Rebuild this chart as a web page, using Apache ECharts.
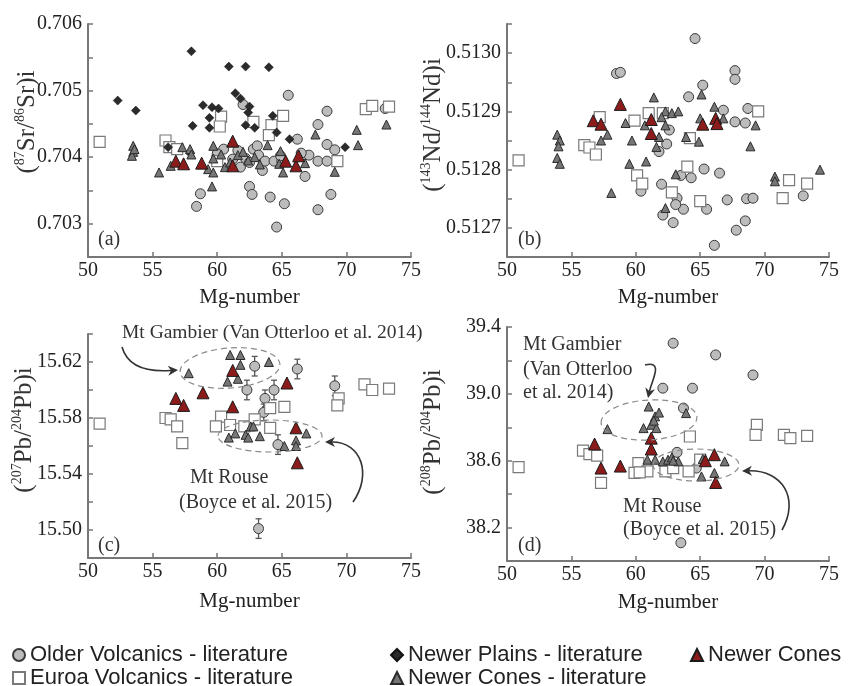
<!DOCTYPE html>
<html>
<head>
<meta charset="utf-8">
<title>Mg-number vs isotopes</title>
<script src="https://cdn.jsdelivr.net/npm/echarts@6/dist/echarts.min.js"></script>
<style>
  html, body { margin: 0; padding: 0; background: #fff; }
  #chart { width: 848px; height: 686px; }
</style>
</head>
<body>
<div id="chart"></div>
<script>
// ---- data: [Mg-number, ratio] ----
// (a) 87Sr/86Sr
var olderSr = [[58.7,0.70345],[58.4,0.70326],[60.5,0.70412],[65.5,0.70493],[68.5,0.70469],[73.0,0.70473],
  [67.8,0.70449],[62.0,0.70479],[66.2,0.70427],[68.5,0.70419],[69.1,0.70411],[67.1,0.70403],[67.8,0.70394],
  [68.5,0.70394],[66.8,0.70371],[62.5,0.70356],[62.7,0.70344],[64.1,0.70340],[65.2,0.70330],[68.8,0.70344],
  [67.8,0.70321],[64.6,0.70295],[62.8,0.70412],[63.1,0.70417],[63.2,0.70403],[63.5,0.70380],[63.7,0.70394],
  [64.4,0.70394],[61.8,0.70385],[61.2,0.70397],[62.2,0.70398],[62.5,0.70392],[66.5,0.70406],[65.0,0.70394],
  [60.0,0.70405],[61.6,0.70410],[64.9,0.70402]];
var euroaSr = [[50.9,0.70423],[56.0,0.70425],[56.3,0.70415],[56.9,0.70412],[60.3,0.70461],[60.2,0.70446],
  [62.8,0.70453],[65.1,0.70462],[64.2,0.70448],[64.0,0.70433],[69.3,0.70394],[71.5,0.70472],[72.0,0.70477],
  [73.3,0.70476],[60.0,0.70394]];
var plainsSr = [[52.3,0.70485],[53.7,0.70470],[56.2,0.70415],[57.9,0.70406],[58.0,0.70559],[58.1,0.70447],
  [58.9,0.70478],[59.4,0.70459],[59.4,0.70444],[59.6,0.70475],[60.1,0.70473],[60.9,0.70536],[61.4,0.70496],
  [61.8,0.70488],[62.2,0.70536],[62.4,0.70467],[62.5,0.70476],[62.2,0.70448],[62.9,0.70444],[64.0,0.70535],
  [64.3,0.70462],[64.6,0.70437],[65.6,0.70427],[69.9,0.70415]];
var conesLitSr = [[53.5,0.70417],[53.5,0.70408],[53.4,0.70402],[53.6,0.70412],[55.5,0.70377],[56.4,0.70387],
  [57.3,0.70415],[57.9,0.70412],[58.0,0.70404],[59.3,0.70382],[59.7,0.70377],[59.6,0.70356],[59.7,0.70417],
  [59.7,0.70398],[60.6,0.70385],[60.3,0.70404],[61.6,0.70403],[62.0,0.70408],[62.4,0.70395],[62.9,0.70400],
  [63.9,0.70418],[64.9,0.70409],[65.1,0.70377],[64.8,0.70390],[66.8,0.70391],[67.6,0.70434],[69.1,0.70378],
  [70.8,0.70441],[70.9,0.70418],[73.1,0.70449],[61.0,0.70392],[63.3,0.70389]];
var conesSr = [[56.8,0.70394],[57.4,0.70390],[58.8,0.70391],[61.2,0.70424],[61.2,0.70387],[65.3,0.70394],
  [66.1,0.70387],[66.3,0.70402]];

// (b) 143Nd/144Nd
var olderNd = [[58.5,0.512965],[58.8,0.512967],[64.6,0.513025],[67.7,0.51297],[67.7,0.512955],[65.2,0.512945],
  [64.1,0.512925],[66.8,0.512902],[68.7,0.512905],[67.7,0.512882],[68.5,0.51288],[62.6,0.512868],[62.4,0.512844],
  [61.8,0.512831],[60.4,0.512763],[62.0,0.512775],[63.5,0.51279],[64.3,0.512786],[65.3,0.512801],[66.5,0.512794],
  [63.2,0.512751],[63.7,0.512732],[63.1,0.51274],[62.1,0.512722],[62.9,0.512709],[65.5,0.512732],[67.1,0.512748],
  [68.6,0.51275],[69.1,0.512751],[68.5,0.512712],[67.8,0.512696],[66.1,0.51267],[73.0,0.512755]];
var euroaNd = [[50.9,0.512816],[56.0,0.512842],[56.4,0.512838],[56.9,0.512826],[57.2,0.51289],[59.9,0.512884],
  [61.0,0.512897],[62.1,0.512897],[64.2,0.512854],[60.1,0.51279],[60.5,0.512776],[64.0,0.512805],[62.8,0.512761],
  [65.0,0.512746],[69.5,0.5129],[71.9,0.512782],[73.3,0.512776],[71.4,0.512751]];
var conesLitNd = [[53.9,0.51286],[54.1,0.51285],[54.0,0.51284],[53.9,0.51282],[54.1,0.51281],[57.3,0.51285],
  [57.8,0.51286],[58.1,0.51276],[59.2,0.51288],[59.7,0.51285],[59.5,0.51281],[61.4,0.512924],[60.8,0.512814],
  [62.3,0.5129],[62.8,0.512897],[63.3,0.5129],[62.3,0.512876],[61.8,0.512856],[61.6,0.512839],[63.9,0.512856],
  [64.9,0.512848],[65.1,0.512929],[66.1,0.512908],[66.8,0.512888],[65.0,0.512888],[69.3,0.512876],[68.9,0.51284],
  [63.1,0.512792],[70.8,0.512788],[70.8,0.51278],[74.3,0.5128],[62.3,0.512734],[60.7,0.512876],[62.0,0.51289]];
var conesNd = [[56.7,0.512884],[57.3,0.512878],[58.8,0.512912],[61.2,0.512886],[61.2,0.512862],[65.2,0.512878],
  [66.2,0.512888],[66.3,0.512879]];

// (c) 207Pb/204Pb (older volcanics carry an error bar)
var olderPb7 = [[62.9,15.617],[66.2,15.615],[62.3,15.600],[64.4,15.600],[63.7,15.594],[63.6,15.584],
  [64.7,15.561],[63.2,15.501],[69.1,15.603]];
var olderPb7Err = [0.007,0.007,0.007,0.007,0.006,0.006,0.007,0.007,0.007];
var euroaPb7 = [[50.9,15.576],[56.0,15.580],[56.4,15.579],[56.9,15.574],[57.3,15.562],[60.3,15.581],[59.9,15.574],
  [61.0,15.575],[62.1,15.574],[62.9,15.579],[64.1,15.587],[65.2,15.588],[64.1,15.573],[69.4,15.594],[69.3,15.589],
  [71.4,15.604],[72.0,15.600],[73.3,15.601]];
var conesLitPb7 = [[57.8,15.612],[60.8,15.606],[61.0,15.625],[61.8,15.625],[61.8,15.618],[64.0,15.620],[61.6,15.608],
  [60.9,15.566],[61.4,15.569],[62.2,15.568],[62.6,15.574],[62.8,15.574],[62.4,15.566],[63.3,15.567],[65.2,15.560],
  [66.1,15.564],[66.1,15.560],[66.9,15.569]];
var conesPb7 = [[56.8,15.594],[57.4,15.589],[58.9,15.598],[61.2,15.614],[61.2,15.588],[65.4,15.605],[66.1,15.573],
  [66.2,15.548]];

// (d) 208Pb/204Pb
var olderPb8 = [[62.9,39.303],[66.2,39.233],[69.1,39.113],[62.1,39.034],[64.4,39.034],[63.7,38.915],[63.2,38.65],
  [64.7,38.556],[63.5,38.109]];
var euroaPb8 = [[50.9,38.562],[55.9,38.66],[56.4,38.64],[57.0,38.63],[57.3,38.467],[60.2,38.586],[59.9,38.527],
  [60.9,38.536],[62.3,38.536],[62.9,38.556],[64.1,38.536],[64.2,38.745],[65.0,38.606],[69.4,38.815],[69.3,38.755],
  [71.5,38.755],[72.0,38.735],[73.3,38.749],[60.3,38.53]];
var conesLitPb8 = [[57.8,38.789],[61.0,38.924],[61.5,38.865],[61.8,38.888],[60.6,38.795],[61.2,38.815],[61.6,38.795],
  [61.4,38.84],[63.9,38.885],[60.9,38.606],[61.5,38.606],[62.1,38.596],[62.5,38.606],[62.8,38.62],[63.3,38.596],
  [65.2,38.61],[66.9,38.596],[66.1,38.527],[65.1,38.506],[62.9,38.60]];
var conesPb8 = [[61.2,38.735],[61.2,38.67],[56.8,38.7],[57.3,38.556],[58.8,38.568],[65.4,38.6],[66.1,38.636],
  [66.2,38.47]];

var xTicks = [50, 55, 60, 65, 70, 75];

var SERIF = 'Liberation Serif';
var NAMES = ['Older Volcanics - literature', 'Euroa Volcanics - literature', 'Newer Plains - literature',
  'Newer Cones - literature', 'Newer Cones'];

var styles = {};
styles[NAMES[0]] = { symbol: 'circle', size: 10, color: '#bcbcbc', border: '#3a3a3a', bw: 1, z: 2 };
styles[NAMES[1]] = { symbol: 'rect', size: 11, color: '#ffffff', border: '#7a7a7a', bw: 1.2, z: 3 };
styles[NAMES[2]] = { symbol: 'diamond', size: 9, color: '#2b2b2b', border: '#111', bw: 0.5, z: 4 };
styles[NAMES[3]] = { symbol: 'triangle', size: 9, color: '#767676', border: '#2a2a2a', bw: 1, z: 5 };
styles[NAMES[4]] = { symbol: 'triangle', size: 12, color: '#8c1b1b', border: '#1a1a1a', bw: 1, z: 6 };

function scatter(name, gi, data) {
  var s = styles[name];
  return {
    type: 'scatter', name: name, xAxisIndex: gi, yAxisIndex: gi, data: data,
    symbol: s.symbol, symbolSize: s.size, z: s.z, silent: true,
    itemStyle: { color: s.color, borderColor: s.border, borderWidth: s.bw, opacity: 1 }
  };
}

function xAx(gi, gap) {
  return {
    type: 'value', gridIndex: gi, min: xTicks[0], max: xTicks[xTicks.length - 1], interval: 5,
    name: 'Mg-number', nameLocation: 'middle', nameGap: gap,
    nameTextStyle: { fontFamily: SERIF, fontSize: 21, color: '#222' },
    axisLine: { lineStyle: { color: '#777', width: 2 } },
    axisTick: { inside: true, length: 5, lineStyle: { color: '#777', width: 1.5 } },
    axisLabel: { fontFamily: SERIF, fontSize: 20, color: '#222', margin: 4 },
    splitLine: { show: false }
  };
}

function yAx(gi, min, max, step, base, labStep, dec) {
  return {
    type: 'value', gridIndex: gi, min: min, max: max, interval: step, scale: true,
    axisLine: { show: true, lineStyle: { color: '#777', width: 2 } },
    axisTick: { show: true, inside: true, length: 5, lineStyle: { color: '#777', width: 1.5 } },
    axisLabel: {
      fontFamily: SERIF, fontSize: 20, color: '#222', margin: 6,
      formatter: function (v) {
        var k = (v - base) / labStep;
        return Math.abs(k - Math.round(k)) < 1e-4 ? v.toFixed(dec) : '';
      }
    },
    splitLine: { show: false }
  };
}

var series = [
  scatter(NAMES[0], 0, olderSr), scatter(NAMES[1], 0, euroaSr), scatter(NAMES[2], 0, plainsSr),
  scatter(NAMES[3], 0, conesLitSr), scatter(NAMES[4], 0, conesSr),
  scatter(NAMES[0], 1, olderNd), scatter(NAMES[1], 1, euroaNd),
  scatter(NAMES[3], 1, conesLitNd), scatter(NAMES[4], 1, conesNd),
  scatter(NAMES[0], 2, olderPb7), scatter(NAMES[1], 2, euroaPb7),
  scatter(NAMES[3], 2, conesLitPb7), scatter(NAMES[4], 2, conesPb7),
  scatter(NAMES[0], 3, olderPb8), scatter(NAMES[1], 3, euroaPb8),
  scatter(NAMES[3], 3, conesLitPb8), scatter(NAMES[4], 3, conesPb8),
  {
    type: 'custom', name: 'err', xAxisIndex: 2, yAxisIndex: 2, z: 1, silent: true,
    data: olderPb7.map(function (p, i) { return [p[0], p[1], olderPb7Err[i]]; }),
    renderItem: function (params, api) {
      var x = api.value(0), y = api.value(1), e = api.value(2);
      var lo = api.coord([x, y - e]), hi = api.coord([x, y + e]);
      var st = { stroke: '#555', lineWidth: 1.3 };
      return { type: 'group', children: [
        { type: 'line', shape: { x1: lo[0], y1: lo[1], x2: hi[0], y2: hi[1] }, style: st },
        { type: 'line', shape: { x1: lo[0] - 3, y1: lo[1], x2: lo[0] + 3, y2: lo[1] }, style: st },
        { type: 'line', shape: { x1: hi[0] - 3, y1: hi[1], x2: hi[0] + 3, y2: hi[1] }, style: st }
      ] };
    }
  }
];

// ---- annotations ----
function txt(x, y, s, size) {
  return { type: 'text', x: x, y: y, silent: true, z: 20,
    style: { text: s, fontFamily: SERIF, fontSize: size, fill: '#333', verticalAlign: 'middle', align: 'left' } };
}
function yName(x, y, s) {
  return { type: 'text', x: x, y: y, rotation: Math.PI / 2, silent: true, z: 20,
    style: { text: s, fontFamily: SERIF, fontSize: 25, fill: '#333', align: 'center', verticalAlign: 'middle',
      lineHeight: 28,
      rich: { s: { fontFamily: SERIF, fontSize: 14, fill: '#333', verticalAlign: 'top', lineHeight: 28, padding: [0, 0, 12, 0] } } } };
}
function ell(cx, cy, rx, ry, rot) {
  return { type: 'ellipse', x: cx, y: cy, rotation: rot || 0, silent: true, z: 15,
    shape: { cx: 0, cy: 0, rx: rx, ry: ry },
    style: { stroke: '#8a8a8a', lineWidth: 1.2, lineDash: [6, 4], fill: null } };
}
function arrow(p0, c1, c2, p1) {
  var dx = p1[0] - c2[0], dy = p1[1] - c2[1], L = Math.sqrt(dx * dx + dy * dy);
  var ux = dx / L, uy = dy / L, bx = p1[0] - ux * 10, by = p1[1] - uy * 10;
  return [
    { type: 'bezierCurve', silent: true, z: 16,
      shape: { x1: p0[0], y1: p0[1], cpx1: c1[0], cpy1: c1[1], cpx2: c2[0], cpy2: c2[1], x2: bx + ux * 3, y2: by + uy * 3 },
      style: { stroke: '#333', lineWidth: 1.6, fill: null } },
    { type: 'polygon', silent: true, z: 16,
      shape: { points: [p1, [bx - uy * 5, by + ux * 5], [bx + ux * 3, by + uy * 3], [bx + uy * 5, by - ux * 5]] },
      style: { fill: '#333' } }
  ];
}

var graphics = [
  yName(27, 122, '({s|87}Sr/{s|86}Sr)i'),
  yName(433, 125, '({s|143}Nd/{s|144}Nd)i'),
  yName(24, 430, '({s|207}Pb/{s|204}Pb)i'),
  yName(433, 432, '({s|208}Pb/{s|204}Pb)i'),
  txt(98, 240, '(a)', 20), txt(518, 240, '(b)', 20), txt(98, 546, '(c)', 20), txt(518, 546, '(d)', 20),
  txt(122, 333, 'Mt Gambier (Van Otterloo et al. 2014)', 19.5),
  txt(190, 478, 'Mt Rouse', 20), txt(179, 503, '(Boyce et al. 2015)', 20),
  txt(523, 345, 'Mt Gambier', 20), txt(523, 370, '(Van Otterloo', 20), txt(523, 393, 'et al. 2014)', 20),
  txt(623, 507, 'Mt Rouse', 20), txt(623, 530, '(Boyce et al. 2015)', 20),
  ell(230, 368, 50, 20, 0.08), ell(270, 436, 52, 16, 0),
  ell(649, 420, 48, 20, 0.06), ell(696, 465, 43, 16, 0)
].concat(
  arrow([122, 347], [128, 368], [150, 372], [178, 370]),
  arrow([353, 502], [372, 475], [362, 442], [325, 442]),
  arrow([645, 365], [664, 360], [652, 380], [648, 398]),
  arrow([782, 530], [800, 498], [782, 470], [742, 471])
);

var legendText = { fontFamily: 'Liberation Sans', fontSize: 22, color: '#222' };
function leg(left, top, name) {
  return { left: left, top: top, orient: 'horizontal', itemGap: 0, itemWidth: 12, itemHeight: 12,
    selectedMode: false, textStyle: legendText, padding: 0, data: [name] };
}

var chart = echarts.init(document.getElementById('chart'), null, { renderer: 'canvas' });
chart.setOption({
  animation: false,
  backgroundColor: '#fff',
  grid: [
    { left: 88, top: 24, width: 323, height: 233 },
    { left: 507, top: 24, width: 322, height: 233 },
    { left: 88, top: 334, width: 323, height: 224 },
    { left: 507, top: 327, width: 322, height: 234 }
  ],
  xAxis: [xAx(0, 30), xAx(1, 30), xAx(2, 33), xAx(3, 31)],
  yAxis: [
    yAx(0, 0.7025, 0.706, 0.0005, 0.703, 0.001, 3),
    yAx(1, 0.51265, 0.51305, 0.00005, 0.5127, 0.0001, 4),
    yAx(2, 15.48, 15.64, 0.02, 15.50, 0.04, 2),
    yAx(3, 38.0, 39.4, 0.2, 38.2, 0.4, 1)
  ],
  legend: [
    leg(12, 644, NAMES[0]), leg(12, 667, NAMES[1]),
    leg(390, 644, NAMES[2]), leg(390, 667, NAMES[3]),
    leg(690, 644, NAMES[4])
  ],
  series: series,
  graphic: graphics
});
</script>
</body>
</html>
